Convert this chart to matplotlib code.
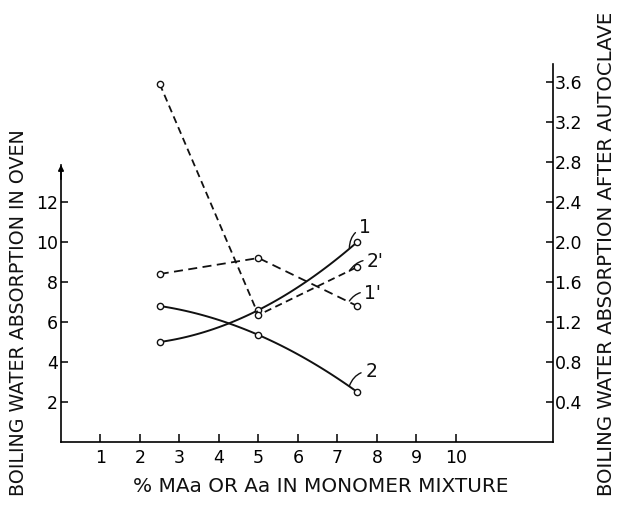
import numpy as np
import matplotlib
matplotlib.use("Agg")
import matplotlib.pyplot as plt

plt.rcParams['font.family'] = ['DejaVu Sans']

# Data (x = % MAa or Aa in monomer mixture)
x = [2.5, 5.0, 7.5]
oven_1 = [5.0, 6.6, 10.0]        # curve 1 (solid, left axis)
oven_2 = [6.8, 5.35, 2.5]        # curve 2 (solid, left axis)
auto_1p = [1.68, 1.84, 1.36]     # curve 1' (dashed, right axis)
auto_2p = [3.58, 1.27, 1.75]     # curve 2' (dashed, right axis)

xticks = [1, 2, 3, 4, 5, 6, 7, 8, 9, 10]
lticks = [2, 4, 6, 8, 10, 12]
rticks = [0.4, 0.8, 1.2, 1.6, 2.0, 2.4, 2.8, 3.2, 3.6]

fig = plt.figure(figsize=(6.18, 5.11), dpi=100)
L, R, B, T = 61, 553, 442, 65
W, H = 618, 511
ax = fig.add_axes([L / W, (H - B) / H, (R - L) / W, (B - T) / H])
ymax_r = (B - T) / 100.0
ax.set_xlim(0, (R - L) / 39.5)
ax.set_ylim(0, ymax_r * 5)
ax2 = ax.twinx()
ax2.set_ylim(0, ymax_r)

for a in (ax, ax2):
    a.spines['top'].set_visible(False)
    a.patch.set_visible(False)
ax.spines['right'].set_visible(False)
ax2.spines['left'].set_visible(False)
ax2.spines['bottom'].set_visible(False)
ax.spines['left'].set_bounds(0, 13.85)
ax2.spines['right'].set_bounds(0, 3.78)
for s in ('left', 'bottom'):
    ax.spines[s].set_linewidth(1.2)
ax2.spines['right'].set_linewidth(1.2)

lc = '#111111'
fs = 12.5
ax.set_xticks(xticks)
ax.set_xticklabels([str(v) for v in xticks], fontsize=fs)
ax.set_yticks(lticks)
ax.set_yticklabels([str(v) for v in lticks], fontsize=fs)
ax2.set_yticks(rticks)
ax2.set_yticklabels([f"{v:.1f}" for v in rticks], fontsize=fs)
ax.tick_params(axis='x', direction='in', length=6, width=1.1, pad=5)
ax.tick_params(axis='y', direction='in', length=5, width=1.1, pad=2)
ax2.tick_params(axis='y', direction='in', length=5, width=1.1, pad=1)

# arrowheads on vertical axes
ax.annotate('', xy=(0, 14.0), xytext=(0, 13.0),
            arrowprops=dict(arrowstyle='-|>', color='black', lw=1.2, mutation_scale=8))
ax2.annotate('', xy=(ax.get_xlim()[1], 3.8), xytext=(ax.get_xlim()[1], 3.6),
             arrowprops=dict(arrowstyle='-|>', color='black', lw=1.2, mutation_scale=8))

def smooth(xs, ys):
    c = np.polyfit(xs, ys, 2)
    xx = np.linspace(xs[0], xs[-1], 100)
    return xx, np.polyval(c, xx)

mk = dict(marker='o', markersize=4.5, markerfacecolor='white', markeredgecolor=lc,
          markeredgewidth=1.0, linestyle='none', zorder=5)

xx, yy = smooth(x, oven_1)
ax.plot(xx, yy, color=lc, lw=1.4)
ax.plot(x, oven_1, **mk)
xx, yy = smooth(x, oven_2)
ax.plot(xx, yy, color=lc, lw=1.4)
ax.plot(x, oven_2, **mk)

ax2.plot(x, auto_1p, color=lc, lw=1.3, linestyle=(0, (5, 3)))
ax2.plot(x, auto_1p, **mk)
ax2.plot(x, auto_2p, color=lc, lw=1.3, linestyle=(0, (4, 2.5)))
ax2.plot(x, auto_2p, **mk)

# curve labels with leader strokes
lab = dict(fontsize=13.5, color=lc, ha='left', va='center')
ap = dict(arrowstyle='-', color=lc, lw=1.0, connectionstyle='arc3,rad=0.35', shrinkA=1, shrinkB=0)
ax.annotate('1', xy=(7.3, 9.7), xytext=(7.55, 10.75), arrowprops=ap, **lab)
ax.annotate("2'", xy=(7.3, 8.55), xytext=(7.75, 9.05), arrowprops=ap, **lab)
ax.annotate("1'", xy=(7.3, 7.05), xytext=(7.68, 7.45), arrowprops=ap, **lab)
ax.annotate('2', xy=(7.3, 2.8), xytext=(7.7, 3.55), arrowprops=ap, **lab)

fig.text(321 / W, 1 - 486 / H, '% MAa OR Aa IN MONOMER MIXTURE', fontsize=14.4,
         ha='center', va='center', color=lc)
fig.text(19 / W, 1 - 313 / H, 'BOILING WATER ABSORPTION IN OVEN', fontsize=13.7,
         rotation=90, ha='center', va='center', color=lc)
fig.text(606 / W, 1 - 254 / H, 'BOILING WATER ABSORPTION AFTER AUTOCLAVE', fontsize=14.2,
         rotation=90, ha='center', va='center', color=lc)

fig.savefig('out.png', dpi=100)
